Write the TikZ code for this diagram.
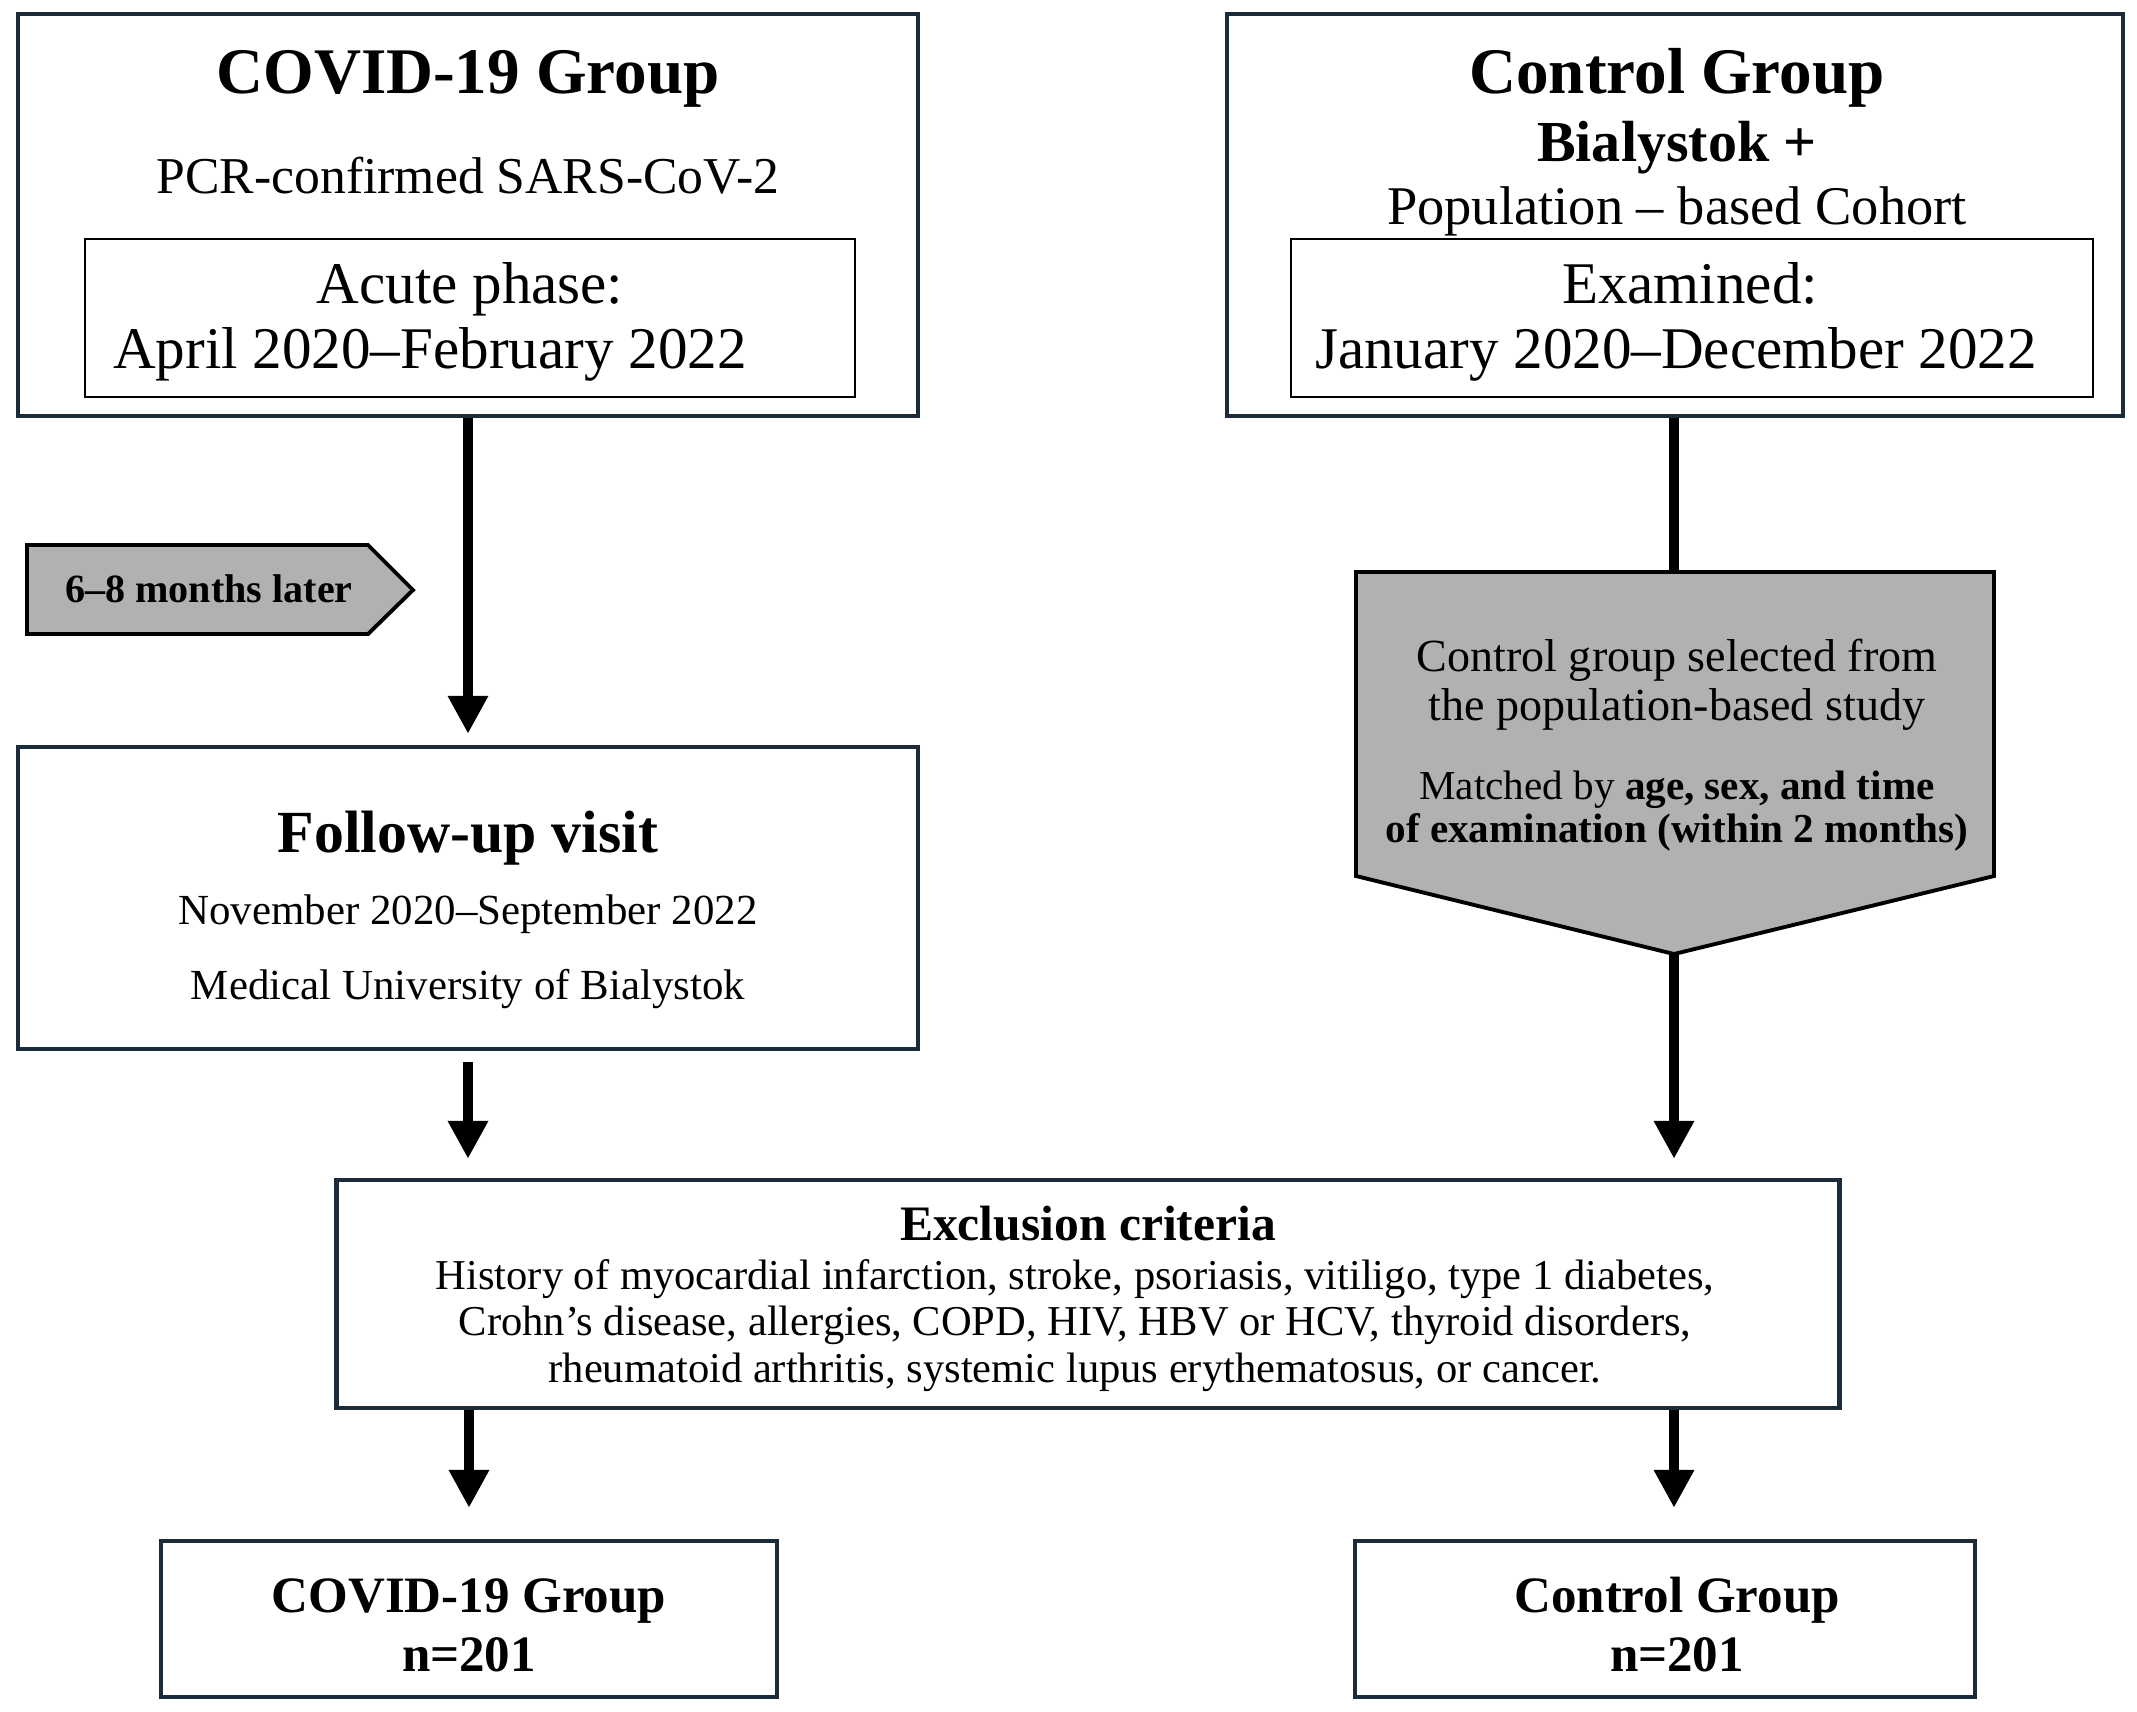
\documentclass[tikz,border=0pt]{standalone}
\usepackage{fontspec}
\setmainfont{Liberation Serif}
\usetikzlibrary{arrows.meta}

\definecolor{boxline}{HTML}{1B2B3A}
\definecolor{shade}{HTML}{B1B1B1}

\begin{document}
\begin{tikzpicture}[x=0.01cm,y=-0.01cm,
  bigbox/.style={draw=boxline,line width=1.2pt,inner sep=0pt},
  datebox/.style={draw=black,line width=0.6pt,inner sep=0pt},
  shadebox/.style={draw=black,line width=1.1pt,fill=shade,line join=miter},
  txt/.style={inner sep=0pt,align=center,anchor=base},
  flow/.style={line width=3.1pt,-{Triangle[width=0.38cm,length=0.38cm]}},
  plain/.style={line width=3.1pt}]
\useasboundingbox (0,0) rectangle (2137,1711);

% COVID-19 group, acute phase
\node[bigbox,minimum width=9cm,minimum height=4.02cm] (covid) at (468,215) {};
\node[datebox,minimum width=7.7cm,minimum height=1.58cm] (acute) at (470,318) {};
\node[txt,font=\fontsize{18.5}{20}\selectfont\bfseries] (covidT) at (468,93) {COVID-19 Group};
\node[txt,font=\fontsize{14.7}{17}\selectfont] (pcr) at (468,193) {PCR-confirmed SARS-CoV-2};
\node[txt,font=\fontsize{16.8}{18.4}\selectfont] (acuteT) at (470,303) {Acute phase:};
\node[txt,font=\fontsize{16.8}{18.4}\selectfont] (acuteD) at (430,368) {April 2020--February 2022};

% control group, examined
\node[bigbox,minimum width=8.96cm,minimum height=4.02cm] (control) at (1675,215) {};
\node[datebox,minimum width=8.02cm,minimum height=1.58cm] (exam) at (1692,318) {};
\node[txt,font=\fontsize{18.5}{20}\selectfont\bfseries] (controlT) at (1677,93) {Control Group};
\node[txt,font=\fontsize{16.5}{18}\selectfont\bfseries] (bial) at (1677,161) {Bialystok +};
\node[txt,font=\fontsize{15.5}{17}\selectfont] (cohort) at (1677,224) {Population -- based Cohort};
\node[txt,font=\fontsize{16.8}{18.4}\selectfont] (examT) at (1690,303) {Examined:};
\node[txt,font=\fontsize{16.8}{18.4}\selectfont] (examD) at (1676,368) {January 2020--December 2022};

% 6-8 months tag
\draw[shadebox] (27,545) -- (368,545) -- (413,590) -- (368,634) -- (27,634) -- cycle;
\node[txt,font=\fontsize{11.4}{12}\selectfont\bfseries] (later) at (209,602) {6--8 months later};

% follow-up visit
\node[bigbox,minimum width=9cm,minimum height=3.02cm] (follow) at (468,898) {};
\node[txt,font=\fontsize{17}{18}\selectfont\bfseries] (followT) at (468,852) {Follow-up visit};
\node[txt,font=\fontsize{12.2}{21.3}\selectfont] (followD) at (468,999) {November 2020--September 2022\\Medical University of Bialystok};

% selection of controls
\coordinate (seltop) at (1674,572);
\coordinate (seltip) at (1674,954);
\draw[shadebox] (1356,572) -- (1994,572) -- (1994,876) -- (seltip) -- (1356,876) -- cycle;
\node[txt,font=\fontsize{13.1}{13.9}\selectfont] (selT) at (1677,720) {Control group selected from\\the population-based study};
\node[txt,font=\fontsize{11.7}{12.2}\selectfont] (match) at (1677,842) {Matched by \textbf{age, sex, and time}\\\textbf{of examination (within 2 months)}};

% exclusion criteria
\node[bigbox,minimum width=15.02cm,minimum height=2.28cm] (excl) at (1088,1294) {};
\node[txt,font=\fontsize{14.1}{15}\selectfont\bfseries] (exclT) at (1088,1240) {Exclusion criteria};
\node[txt,font=\fontsize{12.1}{13.2}\selectfont] (exclD) at (1075,1382) {History of myocardial infarction, stroke, psoriasis, vitiligo, type 1 diabetes,\\Crohn’s disease, allergies, COPD, HIV, HBV or HCV, thyroid disorders,\\rheumatoid arthritis, systemic lupus erythematosus, or cancer.};

% final groups
\node[bigbox,minimum width=6.16cm,minimum height=1.56cm] (covidN) at (469,1619) {};
\node[txt,font=\fontsize{14.5}{16.7}\selectfont\bfseries] (covidNT) at (469,1671) {COVID-19 Group\\n=201};
\node[bigbox,minimum width=6.19cm,minimum height=1.56cm] (controlN) at (1665,1619) {};
\node[txt,font=\fontsize{14.5}{16.7}\selectfont\bfseries] (controlNT) at (1677,1671) {Control Group\\n=201};

% connectors
\draw[flow,shorten >=0.11cm] (covid.south) -- (follow.north);
\draw[flow,shorten <=0.11cm,shorten >=0.19cm] (follow.south) -- (excl.north -| follow.south);
\draw[plain] (control.south -| seltop) -- (seltop);
\draw[flow,shorten >=0.19cm] (seltip) -- (excl.north -| seltip);
\draw[flow,shorten >=0.31cm] (excl.south -| covidN.north) -- (covidN.north);
\draw[flow,shorten >=0.31cm] (excl.south -| seltip) -- (controlN.north -| seltip);
\end{tikzpicture}
\end{document}
